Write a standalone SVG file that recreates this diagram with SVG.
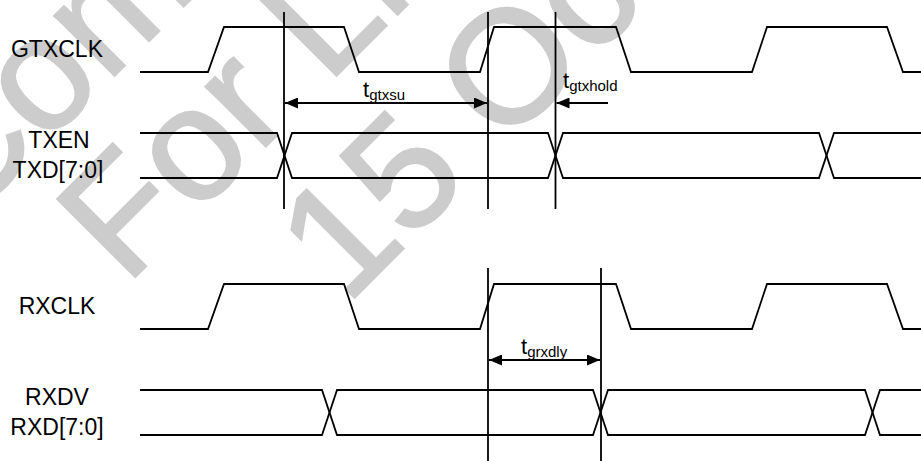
<svg xmlns="http://www.w3.org/2000/svg" width="921" height="461" viewBox="0 0 921 461">
  <style>
    .wm { font-family: "Liberation Sans", Arial, sans-serif; font-size: 160px; fill: #cccccc; stroke: #cccccc; stroke-width: 2.5; }
    .lbl { font-family: "Liberation Sans", Arial, sans-serif; font-size: 23px; fill: #000; text-anchor: middle; }
    .t { font-family: "Liberation Sans", Arial, sans-serif; font-size: 22px; fill: #000; }
    .sub { font-size: 15px; }
    .wave { fill: none; stroke: #000; stroke-width: 1.8; stroke-linejoin: miter; }
    .ref { stroke: #000; stroke-width: 1.8; }
    .dim { stroke: #000; stroke-width: 1.8; }
  </style>
  <defs>
    <marker id="ah" viewBox="0 0 13 11" refX="13" refY="5.5" markerWidth="13" markerHeight="11" markerUnits="userSpaceOnUse" orient="auto-start-reverse">
      <path d="M0,0 L13,5.5 L0,11 Z" fill="#000"/>
    </marker>
  </defs>
  <rect x="0" y="0" width="921" height="461" fill="#fff"/>

  <g id="watermark">
    <text class="wm" transform="translate(-38,228) rotate(-45)">Com</text>
    <text class="wm" transform="translate(126,286) rotate(-45)">For Li</text>
    <text class="wm" transform="translate(346,306) rotate(-45)">15 Oct</text>
  </g>

  <g id="gtxclk">
    <text class="lbl" x="57" y="57">GTXCLK</text>
    <path class="wave" d="M140,72 H208 L224,27 H344 L359,72 H480 L494,27 H616 L631,72 H752 L767,27 H887 L903,72 H921"/>
  </g>

  <g id="txen">
    <text class="lbl" x="59" y="148">TXEN</text>
    <text class="lbl" x="58" y="178">TXD[7:0]</text>
    <path class="wave" d="M140,133 H277 L292,178 H548 L563,133 H819 L834,178 H921"/>
    <path class="wave" d="M140,178 H277 L292,133 H548 L563,178 H819 L834,133 H921"/>
  </g>

  <g id="rxclk">
    <text class="lbl" x="57" y="314">RXCLK</text>
    <path class="wave" d="M140,329 H208 L224,284 H344 L359,329 H480 L494,284 H616 L631,329 H752 L767,284 H887 L903,329 H921"/>
  </g>

  <g id="rxdv">
    <text class="lbl" x="57" y="405">RXDV</text>
    <text class="lbl" x="57" y="435">RXD[7:0]</text>
    <path class="wave" d="M140,390 H322 L337,435 H593 L608,390 H865 L880,435 H921"/>
    <path class="wave" d="M140,435 H322 L337,390 H593 L608,435 H865 L880,390 H921"/>
  </g>

  <g id="connectors">
    <line class="ref" x1="284" y1="12" x2="284" y2="209"/>
    <line class="ref" x1="488" y1="12" x2="488" y2="209"/>
    <line class="ref" x1="555.5" y1="12" x2="555.5" y2="209"/>
    <line class="ref" x1="488" y1="268" x2="488" y2="461"/>
    <line class="ref" x1="601" y1="268" x2="601" y2="461"/>

    <line class="dim" x1="285" y1="103" x2="487" y2="103" marker-start="url(#ah)" marker-end="url(#ah)"/>
    <line class="dim" x1="608" y1="103" x2="556.5" y2="103" marker-end="url(#ah)"/>
    <line class="dim" x1="489" y1="360" x2="600" y2="360" marker-start="url(#ah)" marker-end="url(#ah)"/>
  </g>

  <g id="labels">
    <text class="t" x="363" y="97">t<tspan class="sub" dy="3">gtxsu</tspan></text>
    <text class="t" x="563" y="88">t<tspan class="sub" dy="3">gtxhold</tspan></text>
    <text class="t" x="521" y="354">t<tspan class="sub" dy="3">grxdly</tspan></text>
  </g>
</svg>
